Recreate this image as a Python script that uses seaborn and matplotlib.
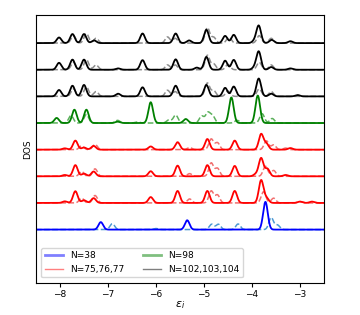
import numpy as np
import pandas as pd
import seaborn as sns
import matplotlib
matplotlib.use('Agg')
import matplotlib.pyplot as plt
from matplotlib.lines import Line2D

# Levels (energy, peak height), one row per cluster size.
# Rows are stacked from the bottom up.
row_labels = ['38', '75', '76', '77', '98', '102', '103', '104']
row_colors = ['blue', 'red', 'red', 'red', 'green', 'black', 'black', 'black']
dash_colors = ['#3a8fd0', '#f06060', '#f06060', '#f06060', '#4aa84a', '#808080', '#808080', '#808080']

solid_e = [
    [-7.15, -5.35, -3.72],
    [-7.90, -7.68, -7.50, -7.30, -6.11, -5.55, -4.93, -4.36, -3.81, -3.70, -3.00, -2.75],
    [-7.90, -7.68, -7.50, -7.30, -6.11, -5.55, -4.93, -4.36, -3.92, -3.81, -3.68, -3.30],
    [-7.90, -7.68, -7.50, -7.30, -6.11, -5.55, -4.93, -4.36, -3.81, -3.70, -3.20],
    [-8.07, -7.70, -7.45, -6.80, -6.11, -5.38, -4.43, -3.88],
    [-8.02, -7.74, -7.50, -6.79, -6.28, -5.59, -4.95, -4.56, -4.38, -3.86, -3.60, -3.05],
    [-8.02, -7.74, -7.50, -6.79, -6.28, -5.59, -5.15, -4.95, -4.56, -4.38, -3.95, -3.86, -3.60, -3.20],
    [-8.02, -7.74, -7.50, -7.29, -6.28, -5.59, -5.31, -4.95, -4.56, -4.38, -3.95, -3.86, -3.59, -3.20],
]
solid_h = [
    [0.28, 0.35, 1.04],
    [0.06, 0.44, 0.10, 0.18, 0.22, 0.45, 0.45, 0.45, 0.85, 0.18, 0.05, 0.05],
    [0.05, 0.42, 0.10, 0.18, 0.19, 0.40, 0.42, 0.39, 0.08, 0.68, 0.28, 0.05],
    [0.05, 0.34, 0.08, 0.14, 0.12, 0.28, 0.40, 0.34, 0.58, 0.22, 0.06],
    [0.19, 0.50, 0.50, 0.05, 0.78, 0.15, 0.96, 1.03],
    [0.24, 0.40, 0.43, 0.1, 0.34, 0.40, 0.43, 0.32, 0.37, 0.67, 0.1, 0.05],
    [0.26, 0.38, 0.38, 0.05, 0.36, 0.39, 0.08, 0.48, 0.34, 0.37, 0.08, 0.68, 0.1, 0.05],
    [0.21, 0.34, 0.34, 0.10, 0.36, 0.36, 0.10, 0.50, 0.27, 0.31, 0.08, 0.65, 0.12, 0.07],
]

dash_e = [
    [-6.91, -6.00, -4.84, -4.70, -4.29, -3.60, -3.47],
    [-7.55, -7.27, -5.30, -4.85, -4.72, -3.76, -3.55, -3.00],
    [-7.55, -7.27, -5.30, -4.85, -4.72, -3.72, -3.55],
    [-7.55, -7.27, -5.30, -4.85, -4.72, -3.70, -3.55, -3.30],
    [-7.77, -7.45, -6.80, -6.39, -5.73, -5.59, -5.05, -4.92, -4.82, -4.31, -3.79, -3.58],
    [-7.72, -7.45, -7.25, -5.76, -5.60, -4.93, -4.80, -4.50, -3.85, -3.60],
    [-7.72, -7.45, -7.25, -5.76, -5.60, -4.93, -4.80, -4.50, -3.85, -3.60],
    [-7.72, -7.45, -7.25, -5.76, -5.60, -4.93, -4.80, -4.48, -3.85, -3.60],
]
dash_h = [
    [0.22, 0.04, 0.20, 0.20, 0.21, 0.45, 0.17],
    [0.18, 0.28, 0.15, 0.45, 0.30, 0.42, 0.18, 0.05],
    [0.18, 0.28, 0.1, 0.50, 0.30, 0.38, 0.22],
    [0.14, 0.20, 0.08, 0.40, 0.26, 0.33, 0.18, 0.06],
    [0.28, 0.32, 0.1, 0.04, 0.12, 0.30, 0.26, 0.38, 0.26, 0.1, 0.35, 0.17],
    [0.28, 0.36, 0.18, 0.23, 0.18, 0.50, 0.22, 0.2, 0.28, 0.18],
    [0.28, 0.38, 0.18, 0.18, 0.18, 0.54, 0.22, 0.2, 0.28, 0.18],
    [0.28, 0.36, 0.18, 0.23, 0.18, 0.58, 0.22, 0.22, 0.28, 0.18],
]

legend_labels = ['N=38', 'N=75,76,77', 'N=98', 'N=102,103,104']
legend_colors = ['blue', 'red', 'green', 'black']
legend_widths = [2.0, 1.0, 2.0, 1.0]


def broaden(grid, levels, heights, sigma=0.048):
    ''' Gaussian-broadened DOS from a list of levels. '''
    y = np.zeros_like(grid)
    for e, h in zip(levels, heights):
        y += h * np.exp(-(grid - e) ** 2 / (2 * sigma ** 2))
    return y


def main():
    matplotlib.rcParams['font.family'] = 'DejaVu Sans'
    matplotlib.rcParams['font.size'] = 6.5

    grid = np.linspace(-8.5, -2.5, 1200)
    fig = plt.figure(figsize=(3.6, 3.15), dpi=100)
    ax = fig.add_axes([0.1, 0.102, 0.8, 0.85])

    for i in range(len(row_labels)):
        ys = broaden(grid, solid_e[i], solid_h[i]) + i
        yd = broaden(grid, dash_e[i], dash_h[i]) + i
        df = pd.DataFrame({'e': grid, 'solid': ys, 'dash': yd})
        sns.lineplot(data=df, x='e', y='dash', ax=ax, color=dash_colors[i], lw=1.1,
                     linestyle='--', alpha=0.9)
        sns.lineplot(data=df, x='e', y='solid', ax=ax, color=row_colors[i], lw=1.3)

    ax.set_xlim(-8.5, -2.5)
    ax.set_ylim(-2, 8.05)
    ax.set_yticks([])
    ax.set_xticks(range(-8, -2))
    ax.set_xlabel(r'$\epsilon_i$', fontsize=8, labelpad=0)
    ax.set_ylabel('DOS', fontsize=6.5, labelpad=3)
    ax.tick_params(axis='x', labelsize=6.5, length=3, pad=2)

    handles = [Line2D([0], [0], color=c, lw=w, alpha=0.5)
               for c, w in zip(legend_colors, legend_widths)]
    ax.legend(handles, legend_labels, ncol=2, loc='lower left', fontsize=6.5,
              columnspacing=2.0, borderaxespad=0.6)

    plt.savefig('out.png', dpi=100)
    plt.close()


if __name__ == "__main__":
    main()
